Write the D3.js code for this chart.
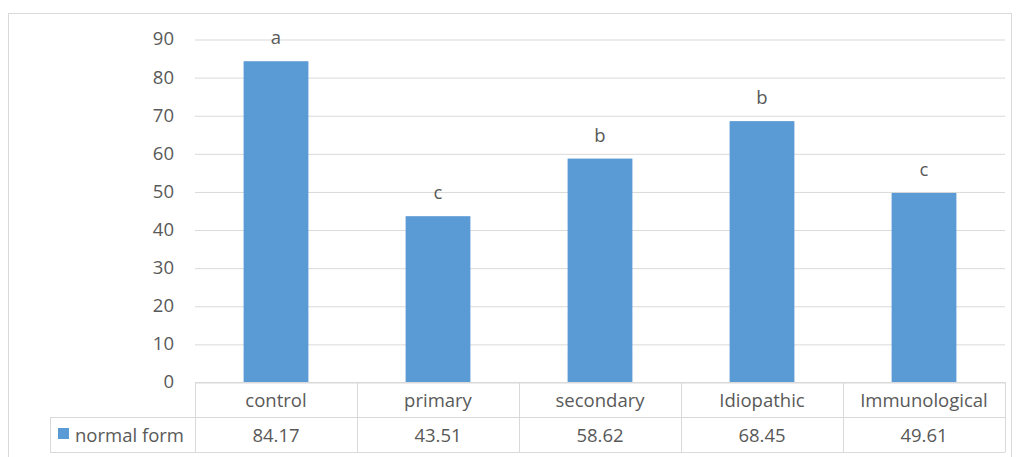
<!DOCTYPE html>
<html>
<head>
<meta charset="utf-8">
<script src="https://cdn.jsdelivr.net/npm/d3@7"></script>
<style>
  html, body { margin: 0; padding: 0; background: #fff; }
  svg { display: block; }
  text { font-family: "Open Sans", "Noto Sans", "Liberation Sans", sans-serif; fill: #595959; }
</style>
</head>
<body>
<svg id="chart" width="1017" height="457"></svg>
<script>
// Chart data
const categories = ["control", "primary", "secondary", "Idiopathic", "Immunological"];
const seriesName = "normal form";
const values = [84.17, 43.51, 58.62, 68.45, 49.61];
const letters = ["a", "c", "b", "b", "c"];
const yTicks = [0, 10, 20, 30, 40, 50, 60, 70, 80, 90];

const svg = d3.select("#chart");
const plot = { left: 195, right: 1005, top: 39, bottom: 382 };
const rowH = 35;
const legendLeft = 50;
const barColor = "#5b9bd5";
const gridColor = "#d9d9d9";
const fontSize = 18.5;
const fontFamily = "'Open Sans', 'Noto Sans', sans-serif";

// Outer chart frame
svg.append("rect")
  .attr("x", 8.5).attr("y", 13.5)
  .attr("width", 1003).attr("height", 460)
  .attr("fill", "none").attr("stroke", "#d9d9d9");

const x = d3.scaleBand().domain(categories)
  .range([plot.left, plot.right]).paddingInner(0.6).paddingOuter(0.3);
const y = d3.scaleLinear().domain([0, 90]).range([plot.bottom, plot.top]);

// Gridlines and value axis labels
const yAxis = d3.axisLeft(y).tickValues(yTicks)
  .tickSize(-(plot.right - plot.left)).tickPadding(21).tickFormat(d3.format("d"));
const gy = svg.append("g").attr("transform", `translate(${plot.left},0)`).call(yAxis);
gy.select(".domain").remove();
gy.selectAll(".tick line").attr("stroke", gridColor).attr("stroke-width", 1)
  .attr("transform", "translate(0,0.5)");
gy.selectAll(".tick text").attr("font-size", fontSize).style("fill", "#595959")
  .attr("font-family", fontFamily);

// Bars
svg.append("g").selectAll("rect").data(values).join("rect")
  .attr("x", (d, i) => x(categories[i]))
  .attr("y", d => y(d))
  .attr("width", x.bandwidth())
  .attr("height", d => y(0) - y(d))
  .attr("fill", barColor);

// Significance letters
svg.append("g").selectAll("text").data(values).join("text")
  .attr("x", (d, i) => x(categories[i]) + x.bandwidth() / 2)
  .attr("y", d => y(d) - 17)
  .attr("text-anchor", "middle")
  .attr("font-size", fontSize)
  .text((d, i) => letters[i]);

// Data table below the plot
const step = (plot.right - plot.left) / categories.length;
const table = svg.append("g").attr("stroke", gridColor).attr("fill", "none").attr("stroke-width", 1);
const r0 = plot.bottom, r1 = plot.bottom + rowH, r2 = plot.bottom + 2 * rowH;
table.append("line").attr("x1", plot.left).attr("x2", plot.right).attr("y1", r0 + 0.5).attr("y2", r0 + 0.5);
table.append("line").attr("x1", legendLeft).attr("x2", plot.right).attr("y1", r1 + 0.5).attr("y2", r1 + 0.5);
table.append("line").attr("x1", legendLeft).attr("x2", plot.right).attr("y1", r2 + 0.5).attr("y2", r2 + 0.5);
table.append("line").attr("x1", legendLeft + 0.5).attr("x2", legendLeft + 0.5).attr("y1", r1).attr("y2", r2);
d3.range(categories.length + 1).forEach(i => {
  const xx = Math.round(plot.left + i * step) + 0.5;
  table.append("line").attr("x1", xx).attr("x2", xx).attr("y1", r0).attr("y2", r2);
});

svg.append("g").selectAll("text").data(categories).join("text")
  .attr("x", (d, i) => plot.left + (i + 0.5) * step)
  .attr("y", r0 + rowH / 2 + 7)
  .attr("text-anchor", "middle")
  .attr("font-size", fontSize)
  .text(d => d);

svg.append("g").selectAll("text").data(values).join("text")
  .attr("x", (d, i) => plot.left + (i + 0.5) * step)
  .attr("y", r1 + rowH / 2 + 7)
  .attr("text-anchor", "middle")
  .attr("font-size", fontSize)
  .text(d => d3.format(".2f")(d));

// Legend key in the table
svg.append("rect").attr("x", 58).attr("y", r1 + 11).attr("width", 11).attr("height", 11).attr("fill", barColor);
svg.append("text").attr("x", 75).attr("y", r1 + rowH / 2 + 7)
  .attr("font-size", fontSize).text(seriesName);
</script>
</body>
</html>
